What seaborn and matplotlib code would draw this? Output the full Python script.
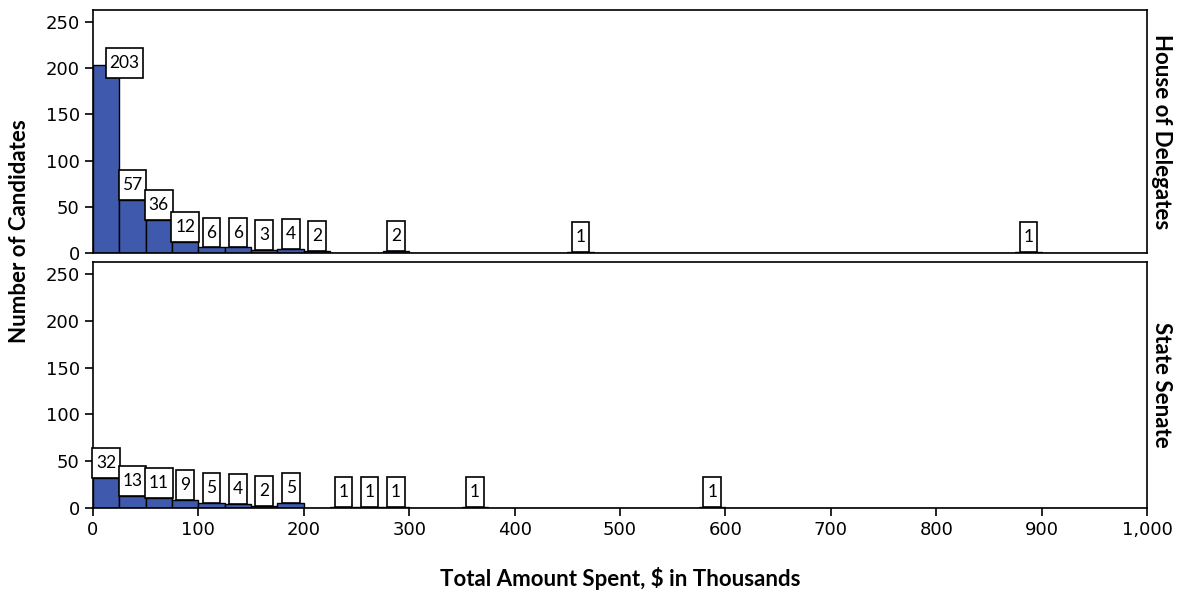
import numpy as np
import pandas as pd
import matplotlib
matplotlib.use("Agg")
import matplotlib.pyplot as plt
from matplotlib.path import Path
import seaborn as sns

sns.set_style("ticks")
plt.rcParams['font.family'] = ['DejaVu Sans']
plt.rcParams['text.color'] = 'black'
plt.rcParams['axes.labelcolor'] = 'black'
plt.rcParams['xtick.color'] = 'black'
plt.rcParams['ytick.color'] = 'black'

# bin centres ($ thousands, 25k-wide bins) and candidate counts
house_mid = [12.5, 37.5, 62.5, 87.5, 112.5, 137.5, 162.5, 187.5, 212.5, 287.5, 462.5, 887.5]
house_n = [203, 57, 36, 12, 6, 6, 3, 4, 2, 2, 1, 1]
senate_mid = [12.5, 37.5, 62.5, 87.5, 112.5, 137.5, 162.5, 187.5, 237.5, 262.5, 287.5, 362.5, 587.5]
senate_n = [32, 13, 11, 9, 5, 4, 2, 5, 1, 1, 1, 1, 1]
panels = ["House of Delegates", "State Senate"]
xticks = [0, 100, 200, 300, 400, 500, 600, 700, 800, 900, 1000]
xtick_labels = ["0", "100", "200", "300", "400", "500", "600", "700", "800", "900", "1,000"]
yticks = [0, 50, 100, 150, 200, 250]

bar_color = "#3F5AAD"
label_font = "Lato"
label_size = 12.5
PAD_X, PAD_Y = 0.22, 0.40


def tall_box(x0, y0, width, height, mutation_size):
    # square box, more padding above/below than at the sides
    px, py = PAD_X * mutation_size, PAD_Y * mutation_size
    x0, y0 = x0 - px, y0 - py
    x1, y1 = x0 + width + 2 * px, y0 + height + 2 * py
    return Path([(x0, y0), (x1, y0), (x1, y1), (x0, y1), (x0, y0)], closed=True)


fig = plt.figure(figsize=(11.83, 5.92), dpi=100)
ax1 = fig.add_axes([0.0786, 0.5726, 0.891, 0.4104])
ax2 = fig.add_axes([0.0786, 0.1419, 0.891, 0.4155])

for ax, mids, counts, name in [(ax1, house_mid, house_n, panels[0]),
                               (ax2, senate_mid, senate_n, panels[1])]:
    df = pd.DataFrame({"spent": mids, "n": counts})
    sns.histplot(data=df, x="spent", weights="n", binwidth=25, binrange=(0, 1000),
                 ax=ax, color=bar_color, alpha=1, edgecolor="black", linewidth=1)
    for m, c in zip(mids, counts):
        # wide 3-digit label nudged right so it stays inside the frame
        lx = m if c < 100 else 30
        ax.annotate(str(c), (lx, min(c, 190)), xytext=(0, PAD_Y * label_size),
                    textcoords="offset points", ha="center", va="bottom",
                    fontsize=label_size, family=label_font,
                    bbox=dict(boxstyle=tall_box, facecolor="white",
                              edgecolor="black", linewidth=1.2))
    ax.set_xlim(0, 1000)
    ax.set_ylim(0, 263)
    ax.set_yticks(yticks)
    ax.set_ylabel("")
    ax.tick_params(axis="y", labelsize=13, length=6, width=1.2)
    ax.tick_params(axis="x", labelsize=13, length=6, width=1.2)
    for s in ax.spines.values():
        s.set_visible(True)
        s.set_linewidth(1.2)
        s.set_color("black")
    ax.text(1.004, 0.5, name, transform=ax.transAxes, rotation=-90,
            ha="left", va="center", fontsize=16, fontweight="bold", family=label_font)

ax1.set_xticks([])
ax1.set_xlabel("")
ax2.set_xticks(xticks)
ax2.set_xticklabels(xtick_labels)
ax2.set_xlabel("Total Amount Spent, \\$ in Thousands", fontsize=16,
               fontweight="bold", family=label_font, labelpad=20)

fig.text(0.008, 0.61, "Number of Candidates", rotation=90, ha="left", va="center",
         fontsize=16, fontweight="bold", family=label_font)

fig.savefig("out.png", dpi=100)
